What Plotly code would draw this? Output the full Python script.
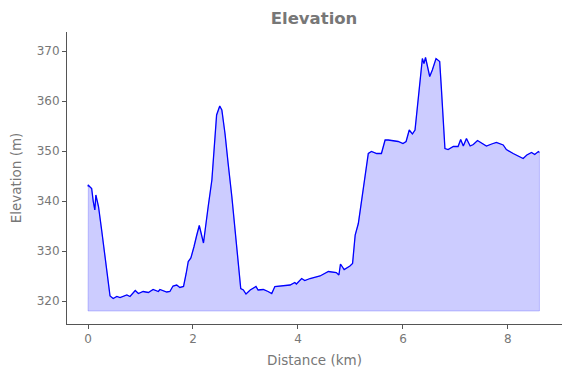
import plotly.graph_objects as go

distance_km = [0.0, 0.006, 0.02, 0.07, 0.1, 0.13, 0.15, 0.2, 0.26, 0.32, 0.36, 0.42, 0.48, 0.55, 0.61,
               0.68, 0.74, 0.8, 0.9, 0.96, 1.05, 1.15, 1.24, 1.34, 1.37, 1.5, 1.56, 1.62, 1.69, 1.75,
               1.82, 1.87, 1.91, 1.96, 2.0, 2.02, 2.07, 2.12, 2.2, 2.26, 2.29, 2.36, 2.45, 2.51, 2.55,
               2.61, 2.64, 2.67, 2.74, 2.8, 2.86, 2.91, 2.96, 3.01, 3.09, 3.2, 3.24, 3.34, 3.43, 3.5,
               3.56, 3.66, 3.78, 3.85, 3.94, 3.97, 4.07, 4.13, 4.23, 4.42, 4.58, 4.73, 4.78, 4.81,
               4.88, 4.99, 5.04, 5.09, 5.15, 5.21, 5.28, 5.34, 5.4, 5.5, 5.59, 5.66, 5.72, 5.81, 5.91,
               6.0, 6.06, 6.12, 6.18, 6.23, 6.29, 6.34, 6.37, 6.4, 6.43, 6.51, 6.56, 6.63, 6.7, 6.73,
               6.8, 6.86, 6.96, 7.05, 7.1, 7.15, 7.21, 7.28, 7.34, 7.42, 7.5, 7.59, 7.69, 7.78, 7.91,
               7.97, 8.1, 8.2, 8.29, 8.36, 8.45, 8.51, 8.58, 8.6]
elevation_m = [342.9, 343.2, 343.0, 342.5, 339.9, 338.2, 341.2, 338.9, 334.2, 328.9, 326.2, 321.0, 320.5,
               320.9, 320.7, 321.0, 321.2, 320.9, 322.1, 321.5, 321.9, 321.7, 322.3, 321.9, 322.3, 321.8,
               321.9, 323.0, 323.2, 322.7, 322.9, 325.5, 327.9, 328.6, 330.6, 330.9, 333.1, 335.1, 331.6,
               337.2, 338.9, 344.2, 357.2, 359.0, 358.2, 353.5, 350.9, 347.5, 340.9, 334.2, 328.9, 322.5,
               322.2, 321.4, 322.2, 322.9, 322.2, 322.3, 321.9, 321.5, 322.9, 323.0, 323.0, 323.2, 323.7,
               323.4, 324.5, 324.1, 324.5, 325.0, 325.9, 325.7, 325.2, 327.4, 326.3, 327.0, 327.5, 333.2,
               335.5, 340.2, 344.9, 349.5, 349.9, 349.5, 349.5, 352.2, 352.2, 352.1, 351.9, 351.5, 351.9,
               354.2, 353.4, 354.2, 360.2, 365.5, 368.5, 367.5, 368.7, 364.9, 366.2, 368.5, 367.9, 362.9,
               350.5, 350.3, 350.9, 350.9, 352.3, 351.0, 352.5, 351.0, 351.3, 352.1, 351.5, 351.0, 351.4,
               351.7, 351.2, 350.3, 349.5, 348.9, 348.5, 349.2, 349.7, 349.3, 349.9, 349.7]
fill_base_m = 318
x_ticks = [0, 2, 4, 6, 8]
y_ticks = [320, 330, 340, 350, 360, 370]

poly_x = [distance_km[0]] + distance_km + [distance_km[-1], distance_km[0]]
poly_y = [fill_base_m] + elevation_m + [fill_base_m, fill_base_m]

fig = go.Figure()
fig.add_trace(go.Scatter(x=poly_x, y=poly_y, mode="lines", fill="toself",
                         fillcolor="rgba(0,0,255,0.2)",
                         line=dict(color="rgba(0,0,255,0.2)", width=1),
                         hoverinfo="skip", showlegend=False))
fig.add_trace(go.Scatter(x=distance_km, y=elevation_m, mode="lines",
                         line=dict(color="#0000ff", width=1.3), showlegend=False))

grey = "#777777"
spine = "#555555"
fig.update_layout(
    width=571, height=378,
    margin=dict(l=59, r=17, t=24, b=62, autoexpand=False),
    paper_bgcolor="white", plot_bgcolor="white",
    font=dict(family="DejaVu Sans", color=grey, size=12),
    title=dict(text="<b>Elevation</b>", x=0.536, xanchor="center", y=0.9735, yanchor="middle",
               font=dict(size=16.5, color=grey)),
    showlegend=False,
)
fig.update_xaxes(range=[-0.4, 9.03], tickvals=x_ticks, showgrid=False, zeroline=False,
                 showline=True, linecolor=spine, linewidth=1, ticks="outside", ticklen=4,
                 tickcolor=spine, tickfont=dict(size=12, color=grey),
                 title=dict(text="Distance (km)", font=dict(size=13.5, color=grey), standoff=10))
fig.update_yaxes(range=[315.4, 373.8], tickvals=y_ticks, showgrid=False, zeroline=False,
                 showline=True, linecolor=spine, linewidth=1, ticks="outside", ticklen=4,
                 tickcolor=spine, tickfont=dict(size=12, color=grey),
                 title=dict(text="Elevation (m)", font=dict(size=13.5, color=grey), standoff=11))

fig.write_html("out.html")
